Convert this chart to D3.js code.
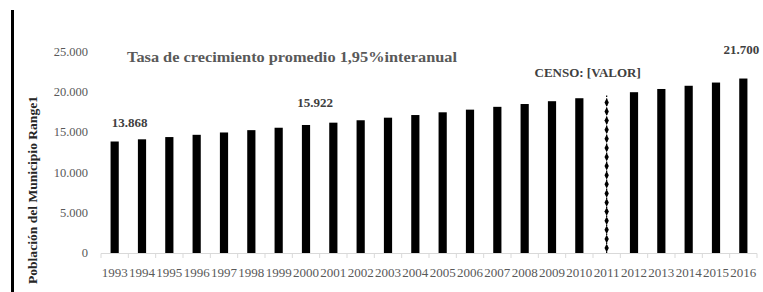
<!DOCTYPE html>
<html>
<head>
<meta charset="utf-8">
<script src="https://cdn.jsdelivr.net/npm/d3@7"></script>
<style>
  body { margin: 0; background: #fff; }
  svg { display: block; font-family: "Liberation Serif", "DejaVu Serif", serif; }
</style>
</head>
<body>
<svg id="chart" width="763" height="292"></svg>
<script>
var years = ["1993","1994","1995","1996","1997","1998","1999","2000","2001","2002","2003","2004",
             "2005","2006","2007","2008","2009","2010","2011","2012","2013","2014","2015","2016"];
var population = [13868, 14140, 14420, 14700, 14990, 15280, 15580, 15922, 16210, 16510, 16830, 17160,
                  17500, 17830, 18180, 18530, 18880, 19250, 19600, 20000, 20400, 20800, 21200, 21700];
var yTicks = [0, 5000, 10000, 15000, 20000, 25000];
var censusYear = "2011";
var labelled = ["1993", "2000", "2016"];
var title = "Tasa de crecimiento promedio 1,95%interanual";
var yTitle = "Población del Municipio  Range1";

var svg = d3.select("#chart");
var fmt = function(v) { return d3.format(",")(v).replace(/,/g, "."); };

var x = d3.scaleBand().domain(years).range([101, 757]).paddingInner(0.7).paddingOuter(0.35);
var y = d3.scaleLinear().domain([0, 25000]).range([253, 52]);

// left rule
svg.append("rect").attr("x", 11).attr("y", 10).attr("width", 3).attr("height", 282).attr("fill", "#000");

// y tick labels
svg.selectAll(".ytick").data(yTicks).enter().append("text")
    .attr("x", 88).attr("y", function(d) { return y(d) + 4; })
    .attr("text-anchor", "end")
    .style("font-size", "12.5px").style("fill", "#595959")
    .text(function(d) { return d === 0 ? "0" : fmt(d); });

// y title
svg.append("text")
    .attr("transform", "translate(37,190) rotate(-90)")
    .attr("text-anchor", "middle")
    .attr("textLength", 188).attr("lengthAdjust", "spacingAndGlyphs")
    .style("font-size", "11.5px").style("font-weight", "bold").style("fill", "#262626")
    .text(yTitle);

// x axis line + ticks at category boundaries
svg.append("line").attr("x1", 101).attr("x2", 757).attr("y1", 253.5).attr("y2", 253.5)
    .attr("stroke", "#d9d9d9").attr("stroke-width", 1);
var step = x.step();
svg.selectAll(".xt").data(d3.range(years.length + 1)).enter().append("line")
    .attr("x1", function(i) { return 101 + i * step; })
    .attr("x2", function(i) { return 101 + i * step; })
    .attr("y1", 253.5).attr("y2", 258)
    .attr("stroke", "#d9d9d9");

// x labels
svg.selectAll(".xl").data(years).enter().append("text")
    .attr("x", function(d) { return x(d) + x.bandwidth() / 2; })
    .attr("y", 277)
    .attr("text-anchor", "middle")
    .style("font-size", "12.5px").style("fill", "#595959")
    .attr("textLength", 26).attr("lengthAdjust", "spacingAndGlyphs")
    .text(function(d) { return d; });

// bars
var data = years.map(function(d, i) { return {year: d, value: population[i]}; });
svg.selectAll(".bar").data(data.filter(function(d) { return d.year !== censusYear; })).enter().append("rect")
    .attr("x", function(d) { return x(d.year); })
    .attr("y", function(d) { return y(d.value); })
    .attr("width", x.bandwidth())
    .attr("height", function(d) { return y(0) - y(d.value); })
    .attr("fill", "#000");

// census year: dotted line with diamond markers
var cen = data.filter(function(d) { return d.year === censusYear; })[0];
var cx = x(cen.year) + x.bandwidth() / 2;
svg.append("line").attr("x1", cx).attr("x2", cx).attr("y1", y(cen.value)).attr("y2", y(0))
    .attr("stroke", "#000").attr("stroke-width", 1.2).attr("stroke-dasharray", "1.5,1.5");
var dy = d3.range(y(cen.value) + 7, y(0) - 2, 9.1);
svg.selectAll(".dia").data(dy).enter().append("path")
    .attr("d", d3.symbol().type(d3.symbolDiamond).size(16))
    .attr("transform", function(d) { return "translate(" + cx + "," + d + ") scale(1,1.15)"; })
    .attr("fill", "#000");

// value labels
var labOff = {"1993": [15, 15], "2000": [9, 18], "2016": [-2, 25]};
svg.selectAll(".vl").data(data.filter(function(d) { return labelled.indexOf(d.year) >= 0; })).enter().append("text")
    .attr("x", function(d) { return x(d.year) + x.bandwidth() / 2 + labOff[d.year][0]; })
    .attr("y", function(d) { return y(d.value) - labOff[d.year][1]; })
    .attr("text-anchor", "middle")
    .style("font-size", "13px").style("font-weight", "bold").style("fill", "#404040")
    .text(function(d) { return fmt(d.value); });

svg.append("text")
    .attr("x", cx - 19).attr("y", 77)
    .attr("text-anchor", "middle")
    .style("font-size", "13px").style("font-weight", "bold").style("fill", "#404040")
    .text("CENSO: [VALOR]");

// title
svg.append("text")
    .attr("x", 127).attr("y", 62)
    .attr("textLength", 330).attr("lengthAdjust", "spacingAndGlyphs")
    .style("font-size", "14px").style("font-weight", "bold").style("fill", "#595959")
    .text(title);
</script>
</body>
</html>
